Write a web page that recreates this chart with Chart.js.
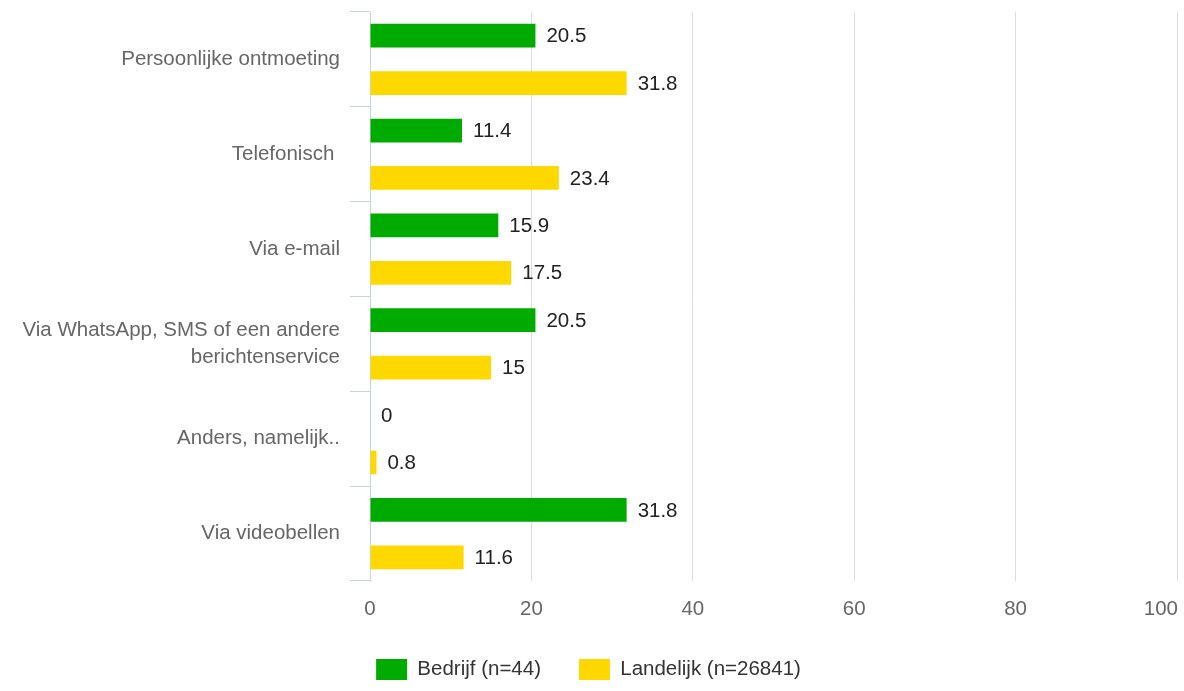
<!DOCTYPE html>
<html>
<head>
<meta charset="utf-8">
<script src="https://cdn.jsdelivr.net/npm/chart.js@4.4.1/dist/chart.umd.min.js"></script>
<style>
  html, body { margin: 0; padding: 0; background: #fff; }
  #wrap { width: 1184px; height: 691px; position: relative; }
</style>
</head>
<body>
<div id="wrap"><canvas id="c"></canvas></div>
<script>
const categories = [
  "Persoonlijke ontmoeting",
  "Telefonisch ",
  "Via e-mail",
  ["Via WhatsApp, SMS of een andere", "berichtenservice"],
  "Anders, namelijk..",
  "Via videobellen"
];
const seriesNames = ["Bedrijf (n=44)", "Landelijk (n=26841)"];
const bedrijf = [20.5, 11.4, 15.9, 20.5, 0, 31.8];
const landelijk = [31.8, 23.4, 17.5, 15, 0.8, 11.6];
const xTicks = [0, 20, 40, 60, 80, 100];

const FONT = '"Liberation Sans", Arial, sans-serif';
const FS = 20.5;

const valueLabels = {
  id: 'valueLabels',
  afterDatasetsDraw(chart) {
    const ctx = chart.ctx;
    ctx.save();
    ctx.font = FS + 'px ' + FONT;
    ctx.fillStyle = '#222';
    ctx.textAlign = 'left';
    ctx.textBaseline = 'middle';
    chart.data.datasets.forEach((ds, i) => {
      const meta = chart.getDatasetMeta(i);
      meta.data.forEach((el, j) => {
        ctx.fillText(String(ds.data[j]), el.x + 11, el.y + 1);
      });
    });
    // last x tick label, kept inside the canvas (right-aligned on its gridline)
    const xs = chart.scales.x;
    const last = xTicks[xTicks.length - 1];
    ctx.fillStyle = '#666';
    ctx.textAlign = 'right';
    ctx.fillText(String(last), xs.getPixelForValue(last) + 1, xs.top + 16 + FS * 0.6);
    ctx.restore();
  }
};

new Chart(document.getElementById('c'), {
  type: 'bar',
  data: {
    labels: categories,
    datasets: [
      { label: seriesNames[0], data: bedrijf, backgroundColor: '#00ab00', borderWidth: 0 },
      { label: seriesNames[1], data: landelijk, backgroundColor: '#ffd800', borderWidth: 0 }
    ]
  },
  options: {
    indexAxis: 'y',
    responsive: true,
    maintainAspectRatio: false,
    animation: false,
    datasets: { bar: { categoryPercentage: 1.0, barPercentage: 0.5 } },
    layout: { padding: { left: 0, right: 7, top: 12, bottom: 1 } },
    scales: {
      x: {
        min: 0, max: 100,
        afterBuildTicks(scale) { scale.ticks = xTicks.map(v => ({ value: v })); },
        afterFit(scale) { scale.paddingLeft = 0; scale.paddingRight = 0; scale.height = 40; },
        grid: { color: '#dcdcdc', lineWidth: 1, drawTicks: false },
        border: { display: false },
        ticks: {
          color: '#666',
          padding: 16,
          callback: (v) => (v === xTicks[xTicks.length - 1] ? '' : String(v)),
          font: { family: FONT, size: FS }
        }
      },
      y: {
        afterFit(scale) { scale.width = 370; scale.paddingTop = 0; scale.paddingBottom = 0; },
        grid: { drawOnChartArea: false, drawTicks: true, tickLength: 20, color: '#c9d3e0', offset: true },
        border: { display: true, color: '#c9d3e0', width: 1 },
        ticks: {
          color: '#666',
          padding: 10,
          font: { family: FONT, size: FS, lineHeight: 1.33 }
        }
      }
    },
    plugins: {
      legend: {
        position: 'bottom',
        labels: {
          boxWidth: 31,
          boxHeight: 21,
          padding: 38,
          color: '#333',
          font: { family: FONT, size: FS }
        }
      },
      tooltip: { enabled: false }
    }
  },
  plugins: [valueLabels]
});
</script>
</body>
</html>
